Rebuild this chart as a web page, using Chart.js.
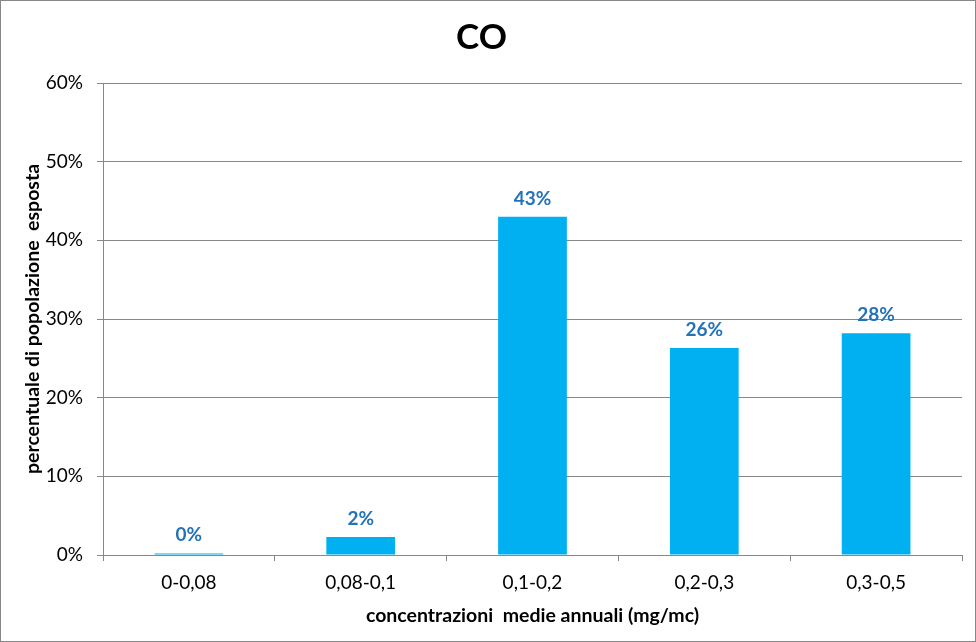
<!DOCTYPE html>
<html>
<head>
<meta charset="utf-8">
<script src="https://cdn.jsdelivr.net/npm/chart.js@4.4.1/dist/chart.umd.min.js"></script>
<style>
    html, body { margin: 0; padding: 0; background: #fff; }
    #frame { width: 976px; height: 642px; box-sizing: border-box; border: 1px solid #888; }
    canvas { display: block; }
</style>
</head>
<body>
<div id="frame"><canvas id="coChart" width="974" height="640"></canvas></div>
<script>
// Classi di concentrazione e percentuale di popolazione esposta
const categories = ['0-0,08', '0,08-0,1', '0,1-0,2', '0,2-0,3', '0,3-0,5'];
const values = [0.2, 2.3, 43.0, 26.3, 28.2];
const labels = ['0%', '2%', '43%', '26%', '28%'];
const yTicks = [0, 10, 20, 30, 40, 50, 60];

const gridColor = '#888888';
const labelColor = '#2472B8';
const fontFamily = 'Lato, Carlito, Calibri, sans-serif';

// Etichette dati sopra le barre
const barLabels = {
    id: 'barLabels',
    afterDatasetsDraw(chart) {
        const ctx = chart.ctx;
        const meta = chart.getDatasetMeta(0);
        ctx.save();
        ctx.font = 'bold 19px ' + fontFamily;
        ctx.fillStyle = labelColor;
        ctx.textAlign = 'center';
        ctx.textBaseline = 'alphabetic';
        meta.data.forEach((bar, i) => {
            ctx.fillText(labels[i], bar.x, bar.y - 12);
        });
        ctx.restore();
    }
};

new Chart(document.getElementById('coChart'), {
    type: 'bar',
    data: {
        labels: categories,
        datasets: [{
            data: values,
            backgroundColor: '#00B0F0',
            barPercentage: 0.4,
            categoryPercentage: 1
        }]
    },
    options: {
        responsive: false,
        animation: false,
        devicePixelRatio: 1,
        layout: { padding: { left: 0, right: 13, top: 0, bottom: 0 } },
        plugins: {
            legend: { display: false },
            tooltip: { enabled: false },
            title: {
                display: true,
                text: 'CO',
                color: '#000',
                font: { family: fontFamily, size: 35, weight: 'bold', lineHeight: 1.2 },
                padding: { top: 16, bottom: 24 }
            }
        },
        scales: {
            x: {
                afterFit(scale) { scale.height = 86; },
                grid: { drawOnChartArea: false, drawTicks: true, tickLength: 6, color: gridColor },
                border: { color: gridColor },
                ticks: { color: '#000', padding: 10.5, font: { family: fontFamily, size: 19 } },
                title: {
                    display: true,
                    text: 'concentrazioni  medie annuali (mg/mc)',
                    color: '#000',
                    font: { family: fontFamily, size: 19.5, weight: 'bold', lineHeight: 1.2 },
                    padding: { top: 0, bottom: 14 }
                }
            },
            y: {
                min: 0,
                max: 60,
                afterFit(scale) { scale.width = 102; },
                afterBuildTicks(scale) { scale.ticks = yTicks.map(v => ({ value: v })); },
                grid: { color: gridColor, tickLength: 6 },
                border: { color: gridColor },
                ticks: {
                    color: '#000',
                    padding: 14,
                    font: { family: fontFamily, size: 19 },
                    callback: v => v + '%'
                },
                title: {
                    display: true,
                    text: 'percentuale di popolazione  esposta',
                    color: '#000',
                    font: { family: fontFamily, size: 19.5, weight: 'bold', lineHeight: 1.2 },
                    padding: { top: 20, bottom: 0 }
                }
            }
        }
    },
    plugins: [barLabels]
});
</script>
</body>
</html>
